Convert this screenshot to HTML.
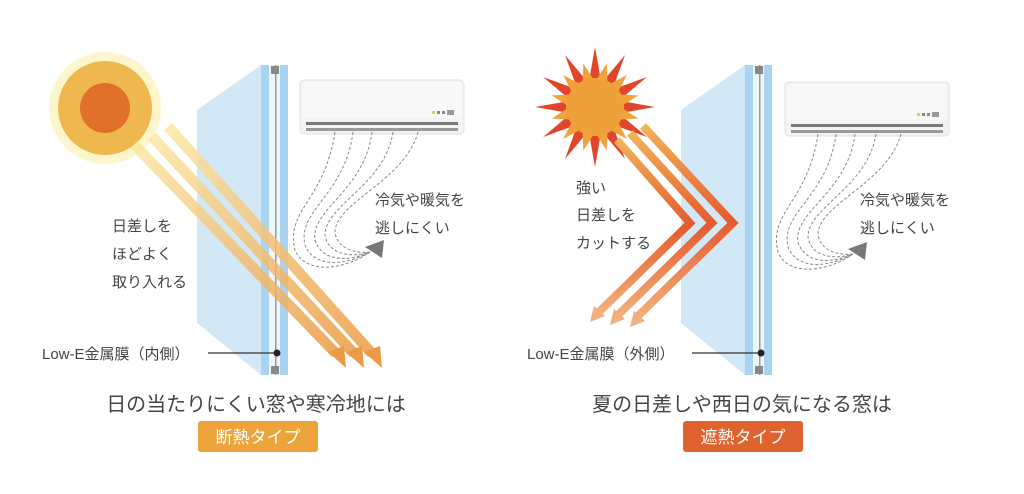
<!DOCTYPE html>
<html><head><meta charset="utf-8"><style>
html,body{margin:0;padding:0;background:#fff;}
svg{display:block;}
text{font-family:"Liberation Sans","Noto Sans CJK JP",sans-serif;fill:#444;}
</style></head><body>
<svg width="1024" height="494" viewBox="0 0 1024 494" xmlns="http://www.w3.org/2000/svg">
<defs>
<linearGradient id="ray1" x1="0" y1="0" x2="1" y2="1">
<stop offset="0" stop-color="#fbe9a8"/><stop offset="1" stop-color="#ec9a45"/></linearGradient>
<linearGradient id="ray2" x1="0" y1="0" x2="0" y2="1">
<stop offset="0" stop-color="#f2b35a"/><stop offset="0.5" stop-color="#e55a2e"/><stop offset="1" stop-color="#f3b27a"/></linearGradient>
<g id="ac">
<rect x="0" y="0" width="164" height="54" rx="4" fill="#f3f3f3" stroke="#e2e2e2"/>
<rect x="2" y="2" width="160" height="36" rx="3" fill="#f8f8f8"/>
<rect x="6" y="42" width="152" height="3" fill="#777"/>
<rect x="6" y="48" width="152" height="3" fill="#999"/>
<rect x="132" y="31" width="3" height="3" fill="#cfd64a"/>
<rect x="137" y="31" width="3" height="3" fill="#888"/>
<rect x="142" y="31" width="3" height="3" fill="#888"/>
<rect x="147" y="30" width="7" height="5" fill="#999"/>
</g>
<g id="air" fill="none" stroke="#888" stroke-width="1" stroke-dasharray="3,2">
<path d="M35,52 C25,120 -15,130 -5,170 C5,195 45,190 70,172"/>
<path d="M53,52 C45,115 -3,130 5,165 C14,188 45,186 70,172"/>
<path d="M72,52 C65,110 10,130 15,160 C22,182 48,182 70,172"/>
<path d="M93,52 C85,105 25,125 25,155 C28,175 52,178 70,172"/>
<path d="M118,52 C105,100 40,120 35,150 C35,168 55,174 70,172"/>
</g>
<g id="glass">
<polygon points="197,110 261,65 261,375 197,323" fill="#d3e8f7"/>
<rect x="261" y="65" width="8" height="310" fill="#a8d3f1"/>
<rect x="269" y="65" width="11" height="310" fill="#eef6fc"/>
<rect x="280" y="65" width="8" height="310" fill="#a8d3f1"/>
<rect x="275" y="65" width="1.5" height="310" fill="#999"/>
<rect x="271" y="66" width="8" height="8" fill="#888"/>
<rect x="271" y="366" width="8" height="8" fill="#888"/>
<line x1="208" y1="353" x2="277" y2="353" stroke="#333" stroke-width="1.2"/>
<circle cx="277" cy="353" r="3.5" fill="#222"/>
</g>
<polygon id="sp1" points="0,-60 6,-26 -6,-26"/>
<polygon id="sp2" points="0,-45 6,-26 -6,-26"/>
</defs>

<!-- LEFT -->
<circle cx="105" cy="108" r="56" fill="#fdf6cc"/>
<circle cx="105" cy="108" r="47" fill="#efb84e"/>
<circle cx="105" cy="108" r="25" fill="#e0702a"/>
<use href="#glass"/>
<g opacity="0.85">
<polygon points="130,148 138,141 340,350 332,357" fill="url(#ray1)"/>
<polygon points="148,140 156,133 358,350 350,357" fill="url(#ray1)"/>
<polygon points="164,130 172,123 376,350 368,357" fill="url(#ray1)"/>
</g>
<polygon points="328,352 346,368 344,346" fill="#ec9a45"/>
<polygon points="346,352 364,368 362,346" fill="#ec9a45"/>
<polygon points="364,352 382,368 380,346" fill="#ec9a45"/>
<use href="#ac" x="300" y="80"/>
<use href="#air" x="300" y="80"/>
<polygon points="365,247 384,240 382,258" fill="#777"/>
<text x="375" y="205" font-size="15">冷気や暖気を</text>
<text x="375" y="233" font-size="15">逃しにくい</text>
<text x="112" y="231" font-size="15">日差しを</text>
<text x="112" y="259" font-size="15">ほどよく</text>
<text x="112" y="287" font-size="15">取り入れる</text>
<text x="42" y="359" font-size="15">Low-E金属膜（内側）</text>
<text x="256" y="411" font-size="20" text-anchor="middle" fill="#333">日の当たりにくい窓や寒冷地には</text>
<rect x="198" y="421" width="120" height="31" rx="3" fill="#eba33a"/>
<text x="258" y="443" font-size="17" text-anchor="middle" style="fill:#fff">断熱タイプ</text>

<!-- RIGHT -->
<g transform="translate(484,0)">
<use href="#glass"/>
</g>
<g transform="translate(595,107)">
<g fill="#e2462a">
<use href="#sp1" transform="rotate(0)"/><use href="#sp1" transform="rotate(30)"/><use href="#sp1" transform="rotate(60)"/>
<use href="#sp1" transform="rotate(90)"/><use href="#sp1" transform="rotate(120)"/><use href="#sp1" transform="rotate(150)"/>
<use href="#sp1" transform="rotate(180)"/><use href="#sp1" transform="rotate(210)"/><use href="#sp1" transform="rotate(240)"/>
<use href="#sp1" transform="rotate(270)"/><use href="#sp1" transform="rotate(300)"/><use href="#sp1" transform="rotate(330)"/>
</g>
<g fill="#f2a23a">
<use href="#sp2" transform="rotate(15)"/><use href="#sp2" transform="rotate(45)"/><use href="#sp2" transform="rotate(75)"/>
<use href="#sp2" transform="rotate(105)"/><use href="#sp2" transform="rotate(135)"/><use href="#sp2" transform="rotate(165)"/>
<use href="#sp2" transform="rotate(195)"/><use href="#sp2" transform="rotate(225)"/><use href="#sp2" transform="rotate(255)"/>
<use href="#sp2" transform="rotate(285)"/><use href="#sp2" transform="rotate(315)"/><use href="#sp2" transform="rotate(345)"/>
</g>
<circle r="29" fill="#eea03a"/>
</g>
<g fill="none" stroke="url(#ray2)" stroke-width="8" stroke-linejoin="miter">
<polyline points="617,140 690,223 598,313"/>
<polyline points="630,133 712,223 617,316"/>
<polyline points="643,126 733,223 636,318"/>
</g>
<polygon points="590,322 605,316 594,306" fill="#f2b080"/>
<polygon points="610,325 625,319 614,309" fill="#f2b080"/>
<polygon points="630,327 645,321 634,311" fill="#f2b080"/>
<use href="#ac" x="785" y="82"/>
<use href="#air" x="783" y="82"/>
<polygon points="848,249 867,242 865,260" fill="#777"/>
<text x="860" y="205" font-size="15">冷気や暖気を</text>
<text x="860" y="233" font-size="15">逃しにくい</text>
<text x="576" y="193" font-size="15">強い</text>
<text x="576" y="220" font-size="15">日差しを</text>
<text x="576" y="248" font-size="15">カットする</text>
<text x="527" y="359" font-size="15">Low-E金属膜（外側）</text>
<text x="742" y="411" font-size="20" text-anchor="middle" fill="#333">夏の日差しや西日の気になる窓は</text>
<rect x="683" y="421" width="120" height="31" rx="3" fill="#e0632f"/>
<text x="743" y="443" font-size="17" text-anchor="middle" style="fill:#fff">遮熱タイプ</text>
</svg>
</body></html>
